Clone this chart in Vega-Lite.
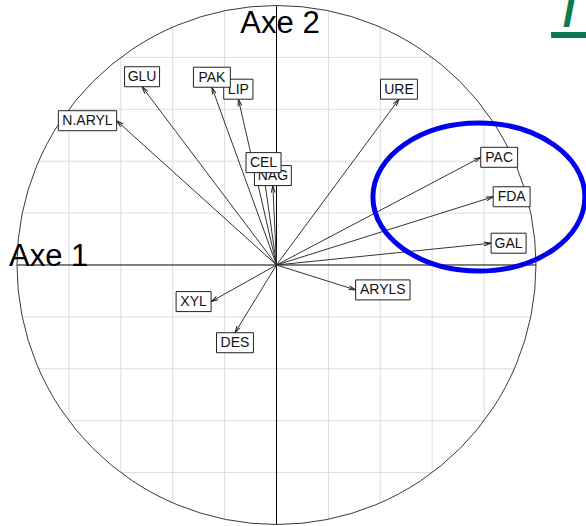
{
  "$schema": "https://vega.github.io/schema/vega-lite/v6.json",
  "width": 586,
  "height": 526,
  "padding": 0,
  "autosize": {"type": "none"},
  "background": "white",
  "config": {"view": {"stroke": null}, "font": "Liberation Sans"},
  "datasets": {
    "grid": [
      {"x1": -0.8, "y1": -0.6, "x2": -0.8, "y2": 0.6},
      {"x1": -0.6, "y1": -0.8, "x2": -0.6, "y2": 0.8},
      {"x1": -0.4, "y1": -0.9165, "x2": -0.4, "y2": 0.9165},
      {"x1": -0.2, "y1": -0.9798, "x2": -0.2, "y2": 0.9798},
      {"x1": 0.2, "y1": -0.9798, "x2": 0.2, "y2": 0.9798},
      {"x1": 0.4, "y1": -0.9165, "x2": 0.4, "y2": 0.9165},
      {"x1": 0.6, "y1": -0.8, "x2": 0.6, "y2": 0.8},
      {"x1": 0.8, "y1": -0.6, "x2": 0.8, "y2": 0.6},
      {"y1": -0.8, "x1": -0.6, "y2": -0.8, "x2": 0.6},
      {"y1": -0.6, "x1": -0.8, "y2": -0.6, "x2": 0.8},
      {"y1": -0.4, "x1": -0.9165, "y2": -0.4, "x2": 0.9165},
      {"y1": -0.2, "x1": -0.9798, "y2": -0.2, "x2": 0.9798},
      {"y1": 0.2, "x1": -0.9798, "y2": 0.2, "x2": 0.9798},
      {"y1": 0.4, "x1": -0.9165, "y2": 0.4, "x2": 0.9165},
      {"y1": 0.6, "x1": -0.8, "y2": 0.6, "x2": 0.8},
      {"y1": 0.8, "x1": -0.6, "y2": 0.8, "x2": 0.6}
    ],
    "axes": [
      {"x1": -1, "y1": 0, "x2": 1, "y2": 0},
      {"x1": 0, "y1": -1, "x2": 0, "y2": 1}
    ],
    "vars": [
      {"name": "N.ARYL", "x": -0.616, "y": 0.556},
      {"name": "GLU", "x": -0.518, "y": 0.687},
      {"name": "LIP", "x": -0.147, "y": 0.639},
      {"name": "PAK", "x": -0.249, "y": 0.685},
      {"name": "URE", "x": 0.472, "y": 0.639},
      {"name": "NAG", "x": -0.014, "y": 0.306},
      {"name": "CEL", "x": -0.050, "y": 0.356},
      {"name": "PAC", "x": 0.787, "y": 0.415},
      {"name": "FDA", "x": 0.835, "y": 0.263},
      {"name": "GAL", "x": 0.827, "y": 0.084},
      {"name": "ARYLS", "x": 0.305, "y": -0.096},
      {"name": "XYL", "x": -0.252, "y": -0.141},
      {"name": "DES", "x": -0.160, "y": -0.261}
    ]
  },
  "layer": [
    {
      "data": {"name": "grid"},
      "mark": {"type": "rule", "color": "#dcdcdc", "strokeWidth": 1},
      "encoding": {
        "x": {"field": "x1", "type": "quantitative", "scale": {"domain": [-1.0655, 1.1927], "nice": false, "zero": false}, "axis": null},
        "y": {"field": "y1", "type": "quantitative", "scale": {"domain": [-1.0058, 1.0212], "nice": false, "zero": false}, "axis": null},
        "x2": {"field": "x2"},
        "y2": {"field": "y2"}
      }
    },
    {
      "data": {"name": "axes"},
      "mark": {"type": "rule", "color": "#000000", "strokeWidth": 1},
      "encoding": {
        "x": {"field": "x1", "type": "quantitative", "scale": {"domain": [-1.0655, 1.1927], "nice": false, "zero": false}, "axis": null},
        "y": {"field": "y1", "type": "quantitative", "scale": {"domain": [-1.0058, 1.0212], "nice": false, "zero": false}, "axis": null},
        "x2": {"field": "x2"},
        "y2": {"field": "y2"}
      }
    },
    {
      "data": {"values": [{"c": 0}]},
      "mark": {"type": "point", "shape": "circle", "size": 269361, "filled": false, "stroke": "#3a3a3a", "strokeWidth": 1, "opacity": 1},
      "encoding": {
        "x": {"field": "c", "type": "quantitative", "scale": {"domain": [-1.0655, 1.1927], "nice": false, "zero": false}, "axis": null},
        "y": {"field": "c", "type": "quantitative", "scale": {"domain": [-1.0058, 1.0212], "nice": false, "zero": false}, "axis": null}
      }
    },
    {
      "data": {"name": "vars"},
      "mark": {"type": "rule", "color": "#333333", "strokeWidth": 1},
      "encoding": {
        "x": {"field": "x", "type": "quantitative", "scale": {"domain": [-1.0655, 1.1927], "nice": false, "zero": false}, "axis": null},
        "y": {"field": "y", "type": "quantitative", "scale": {"domain": [-1.0058, 1.0212], "nice": false, "zero": false}, "axis": null},
        "x2": {"datum": 0},
        "y2": {"datum": 0}
      }
    },
    {
      "data": {"name": "vars"},
      "transform": [{"calculate": "atan2(datum.x, datum.y) * 180 / PI", "as": "ang"}],
      "mark": {"type": "point", "shape": "M-0.27,1L0,0L0.27,1", "size": 196, "filled": false, "stroke": "#222222", "strokeWidth": 1, "opacity": 1},
      "encoding": {
        "x": {"field": "x", "type": "quantitative", "scale": {"domain": [-1.0655, 1.1927], "nice": false, "zero": false}, "axis": null},
        "y": {"field": "y", "type": "quantitative", "scale": {"domain": [-1.0058, 1.0212], "nice": false, "zero": false}, "axis": null},
        "angle": {"field": "ang", "type": "quantitative", "scale": null}
      }
    },
    {
      "data": {"name": "vars"},
      "transform": [
        {"filter": "datum.name == 'NAG' || datum.name == 'LIP'"},
        {"calculate": "length(datum.name) - length(replace(datum.name, regexp('[I.]', 'g'), ''))", "as": "nn"},
        {"calculate": "length(datum.name) - length(replace(datum.name, regexp('L', 'g'), ''))", "as": "nl"},
        {"calculate": "(9.7 * length(datum.name) + 7.8 - 5.8 * datum.nn - 1.9 * datum.nl) / 259.5", "as": "w"},
        {"calculate": "20 / 259.5", "as": "h"},
        {"calculate": "abs(datum.x) > abs(datum.y) ? (datum.x > 0 ? datum.x + datum.w / 2 : datum.x - datum.w / 2) : datum.x", "as": "cx"},
        {"calculate": "abs(datum.x) > abs(datum.y) ? datum.y : (datum.y > 0 ? datum.y + datum.h / 2 : datum.y - datum.h / 2)", "as": "cy"},
        {"calculate": "datum.cx - datum.w / 2", "as": "bx1"},
        {"calculate": "datum.cx + datum.w / 2", "as": "bx2"},
        {"calculate": "datum.cy - datum.h / 2", "as": "by1"},
        {"calculate": "datum.cy + datum.h / 2", "as": "by2"}
      ],
      "layer": [
        {
          "mark": {"type": "rect", "fill": "white", "stroke": "#222222", "strokeWidth": 1},
          "encoding": {
            "x": {"field": "bx1", "type": "quantitative", "scale": {"domain": [-1.0655, 1.1927], "nice": false, "zero": false}, "axis": null},
            "y": {"field": "by1", "type": "quantitative", "scale": {"domain": [-1.0058, 1.0212], "nice": false, "zero": false}, "axis": null},
            "x2": {"field": "bx2"},
            "y2": {"field": "by2"}
          }
        },
        {
          "mark": {"type": "text", "fontSize": 14, "font": "Liberation Sans", "color": "#111111", "align": "center", "baseline": "middle", "dy": 0.5},
          "encoding": {
            "x": {"field": "cx", "type": "quantitative", "scale": {"domain": [-1.0655, 1.1927], "nice": false, "zero": false}, "axis": null},
            "y": {"field": "cy", "type": "quantitative", "scale": {"domain": [-1.0058, 1.0212], "nice": false, "zero": false}, "axis": null},
            "text": {"field": "name"}
          }
        }
      ]
    },
    {
      "data": {"name": "vars"},
      "transform": [
        {"filter": "datum.name != 'NAG' && datum.name != 'LIP'"},
        {"calculate": "length(datum.name) - length(replace(datum.name, regexp('[I.]', 'g'), ''))", "as": "nn"},
        {"calculate": "length(datum.name) - length(replace(datum.name, regexp('L', 'g'), ''))", "as": "nl"},
        {"calculate": "(9.7 * length(datum.name) + 7.8 - 5.8 * datum.nn - 1.9 * datum.nl) / 259.5", "as": "w"},
        {"calculate": "20 / 259.5", "as": "h"},
        {"calculate": "abs(datum.x) > abs(datum.y) ? (datum.x > 0 ? datum.x + datum.w / 2 : datum.x - datum.w / 2) : datum.x", "as": "cx"},
        {"calculate": "abs(datum.x) > abs(datum.y) ? datum.y : (datum.y > 0 ? datum.y + datum.h / 2 : datum.y - datum.h / 2)", "as": "cy"},
        {"calculate": "datum.cx - datum.w / 2", "as": "bx1"},
        {"calculate": "datum.cx + datum.w / 2", "as": "bx2"},
        {"calculate": "datum.cy - datum.h / 2", "as": "by1"},
        {"calculate": "datum.cy + datum.h / 2", "as": "by2"}
      ],
      "layer": [
        {
          "mark": {"type": "rect", "fill": "white", "stroke": "#222222", "strokeWidth": 1},
          "encoding": {
            "x": {"field": "bx1", "type": "quantitative", "scale": {"domain": [-1.0655, 1.1927], "nice": false, "zero": false}, "axis": null},
            "y": {"field": "by1", "type": "quantitative", "scale": {"domain": [-1.0058, 1.0212], "nice": false, "zero": false}, "axis": null},
            "x2": {"field": "bx2"},
            "y2": {"field": "by2"}
          }
        },
        {
          "mark": {"type": "text", "fontSize": 14, "font": "Liberation Sans", "color": "#111111", "align": "center", "baseline": "middle", "dy": 0.5},
          "encoding": {
            "x": {"field": "cx", "type": "quantitative", "scale": {"domain": [-1.0655, 1.1927], "nice": false, "zero": false}, "axis": null},
            "y": {"field": "cy", "type": "quantitative", "scale": {"domain": [-1.0058, 1.0212], "nice": false, "zero": false}, "axis": null},
            "text": {"field": "name"}
          }
        }
      ]
    },
    {
      "data": {"values": [{"t": "Axe 2", "x": 0.0135, "y": 0.894}]},
      "mark": {"type": "text", "fontSize": 31, "font": "Liberation Sans", "color": "#000000", "baseline": "alphabetic", "align": "center"},
      "encoding": {
        "x": {"field": "x", "type": "quantitative", "scale": {"domain": [-1.0655, 1.1927], "nice": false, "zero": false}, "axis": null},
        "y": {"field": "y", "type": "quantitative", "scale": {"domain": [-1.0058, 1.0212], "nice": false, "zero": false}, "axis": null},
        "text": {"field": "t"}
      }
    },
    {
      "data": {"values": [{"t": "Axe 1", "x": -1.031, "y": -0.004}]},
      "mark": {"type": "text", "fontSize": 31, "font": "Liberation Sans", "color": "#000000", "baseline": "alphabetic", "align": "left"},
      "encoding": {
        "x": {"field": "x", "type": "quantitative", "scale": {"domain": [-1.0655, 1.1927], "nice": false, "zero": false}, "axis": null},
        "y": {"field": "y", "type": "quantitative", "scale": {"domain": [-1.0058, 1.0212], "nice": false, "zero": false}, "axis": null},
        "text": {"field": "t"}
      }
    },
    {
      "data": {"values": [{"x": 0.780, "y": 0.262}]},
      "mark": {"type": "point", "shape": "M-1,0A1,0.698,0,1,1,1,0A1,0.698,0,1,1,-1,0Z", "size": 44944, "filled": false, "stroke": "#0000ee", "strokeWidth": 5, "opacity": 1},
      "encoding": {
        "x": {"field": "x", "type": "quantitative", "scale": {"domain": [-1.0655, 1.1927], "nice": false, "zero": false}, "axis": null},
        "y": {"field": "y", "type": "quantitative", "scale": {"domain": [-1.0058, 1.0212], "nice": false, "zero": false}, "axis": null}
      }
    },
    {
      "data": {"values": [{"t": "I", "x": 1.125, "y": 0.917}]},
      "mark": {"type": "text", "fontSize": 40, "font": "Liberation Sans", "fontStyle": "italic", "fontWeight": "bold", "color": "#0b7a4e", "align": "center", "baseline": "alphabetic"},
      "encoding": {
        "x": {"field": "x", "type": "quantitative", "scale": {"domain": [-1.0655, 1.1927], "nice": false, "zero": false}, "axis": null},
        "y": {"field": "y", "type": "quantitative", "scale": {"domain": [-1.0058, 1.0212], "nice": false, "zero": false}, "axis": null},
        "text": {"field": "t"}
      }
    },
    {
      "data": {"values": [{"x1": 1.058, "x2": 1.2, "y": 0.886}]},
      "mark": {"type": "rule", "color": "#0b7a4e", "strokeWidth": 6},
      "encoding": {
        "x": {"field": "x1", "type": "quantitative", "scale": {"domain": [-1.0655, 1.1927], "nice": false, "zero": false}, "axis": null},
        "y": {"field": "y", "type": "quantitative", "scale": {"domain": [-1.0058, 1.0212], "nice": false, "zero": false}, "axis": null},
        "x2": {"field": "x2"}
      }
    }
  ]
}
